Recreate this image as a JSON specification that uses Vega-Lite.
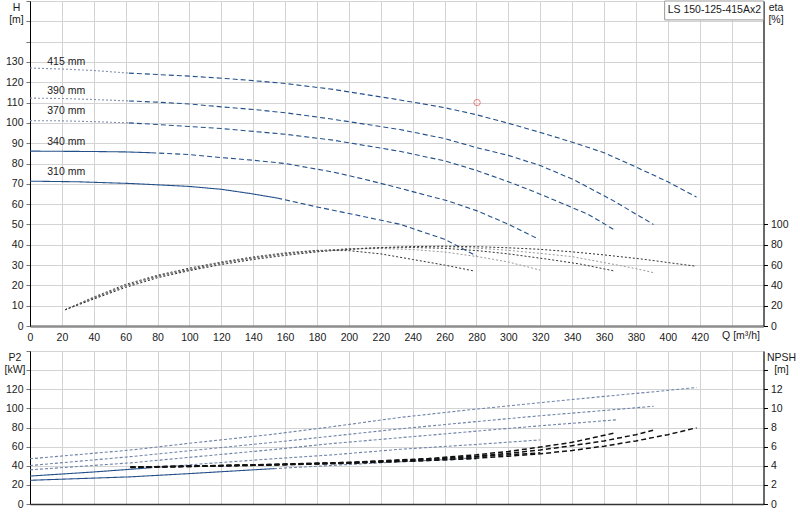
{
  "$schema": "https://vega.github.io/schema/vega-lite/v6.json",
  "padding": {"left": 3, "top": -5, "right": 0, "bottom": 0},
  "background": "white",
  "spacing": 25,
  "bounds": "flush",
  "config": {
    "font": "Liberation Sans",
    "view": {"stroke": "#a6a6a6", "strokeWidth": 1},
    "axis": {
      "labelFont": "Liberation Sans", "labelFontSize": 10.5, "labelColor": "#1a1a1a",
      "titleFont": "Liberation Sans", "titleFontSize": 10.5, "titleFontWeight": "normal", "titleColor": "#1a1a1a",
      "gridColor": "#d3d3d3", "gridWidth": 1, "domainColor": "#000", "tickColor": "#777", "tickSize": 4,
      "labelPadding": 3, "labelFlush": false, "labelOverlap": false
    }
  },
  "datasets": {
    "head": [
      {"d": "415", "seg": "ext", "Q": 0, "H": 127}, {"d": "415", "seg": "ext", "Q": 20, "H": 126.5}, {"d": "415", "seg": "ext", "Q": 40, "H": 125.8}, {"d": "415", "seg": "ext", "Q": 62, "H": 124.5},
      {"d": "415", "seg": "op", "Q": 62, "H": 124.5}, {"d": "415", "seg": "op", "Q": 80, "H": 123.8}, {"d": "415", "seg": "op", "Q": 100, "H": 123}, {"d": "415", "seg": "op", "Q": 120, "H": 122}, {"d": "415", "seg": "op", "Q": 140, "H": 120.8}, {"d": "415", "seg": "op", "Q": 160, "H": 119.4}, {"d": "415", "seg": "op", "Q": 190, "H": 116.5}, {"d": "415", "seg": "op", "Q": 232, "H": 111.3}, {"d": "415", "seg": "op", "Q": 260, "H": 107.5}, {"d": "415", "seg": "op", "Q": 280, "H": 104}, {"d": "415", "seg": "op", "Q": 300, "H": 99.8}, {"d": "415", "seg": "op", "Q": 320, "H": 95.3}, {"d": "415", "seg": "op", "Q": 340, "H": 90.5}, {"d": "415", "seg": "op", "Q": 360, "H": 85.3}, {"d": "415", "seg": "op", "Q": 380, "H": 78.3}, {"d": "415", "seg": "op", "Q": 400, "H": 71}, {"d": "415", "seg": "op", "Q": 418, "H": 63.5},
      {"d": "390", "seg": "ext", "Q": 0, "H": 112.2}, {"d": "390", "seg": "ext", "Q": 20, "H": 112}, {"d": "390", "seg": "ext", "Q": 40, "H": 111.5}, {"d": "390", "seg": "ext", "Q": 62, "H": 110.8},
      {"d": "390", "seg": "op", "Q": 62, "H": 110.8}, {"d": "390", "seg": "op", "Q": 80, "H": 110.2}, {"d": "390", "seg": "op", "Q": 100, "H": 109.3}, {"d": "390", "seg": "op", "Q": 120, "H": 107.9}, {"d": "390", "seg": "op", "Q": 140, "H": 106.6}, {"d": "390", "seg": "op", "Q": 160, "H": 105}, {"d": "390", "seg": "op", "Q": 190, "H": 101.8}, {"d": "390", "seg": "op", "Q": 232, "H": 96.7}, {"d": "390", "seg": "op", "Q": 260, "H": 92.3}, {"d": "390", "seg": "op", "Q": 280, "H": 87.8}, {"d": "390", "seg": "op", "Q": 300, "H": 84}, {"d": "390", "seg": "op", "Q": 320, "H": 79}, {"d": "390", "seg": "op", "Q": 341, "H": 72}, {"d": "390", "seg": "op", "Q": 366, "H": 61.6}, {"d": "390", "seg": "op", "Q": 391, "H": 50},
      {"d": "370", "seg": "ext", "Q": 0, "H": 101.1}, {"d": "370", "seg": "ext", "Q": 20, "H": 101}, {"d": "370", "seg": "ext", "Q": 40, "H": 100.6}, {"d": "370", "seg": "ext", "Q": 62, "H": 100},
      {"d": "370", "seg": "op", "Q": 62, "H": 100}, {"d": "370", "seg": "op", "Q": 80, "H": 99.2}, {"d": "370", "seg": "op", "Q": 100, "H": 98.2}, {"d": "370", "seg": "op", "Q": 120, "H": 97.2}, {"d": "370", "seg": "op", "Q": 140, "H": 95.8}, {"d": "370", "seg": "op", "Q": 160, "H": 94.4}, {"d": "370", "seg": "op", "Q": 190, "H": 91.5}, {"d": "370", "seg": "op", "Q": 232, "H": 86}, {"d": "370", "seg": "op", "Q": 260, "H": 81.3}, {"d": "370", "seg": "op", "Q": 280, "H": 76.6}, {"d": "370", "seg": "op", "Q": 300, "H": 71}, {"d": "370", "seg": "op", "Q": 315, "H": 66.5}, {"d": "370", "seg": "op", "Q": 330, "H": 61.6}, {"d": "370", "seg": "op", "Q": 350, "H": 55}, {"d": "370", "seg": "op", "Q": 367, "H": 47.1},
      {"d": "340", "seg": "rec", "Q": 0, "H": 86.1}, {"d": "340", "seg": "rec", "Q": 20, "H": 86}, {"d": "340", "seg": "rec", "Q": 40, "H": 85.9}, {"d": "340", "seg": "rec", "Q": 60, "H": 85.7}, {"d": "340", "seg": "rec", "Q": 76, "H": 85.3},
      {"d": "340", "seg": "op", "Q": 76, "H": 85.3}, {"d": "340", "seg": "op", "Q": 100, "H": 84.4}, {"d": "340", "seg": "op", "Q": 120, "H": 82.9}, {"d": "340", "seg": "op", "Q": 140, "H": 81.6}, {"d": "340", "seg": "op", "Q": 160, "H": 80}, {"d": "340", "seg": "op", "Q": 190, "H": 75.8}, {"d": "340", "seg": "op", "Q": 210, "H": 72.2}, {"d": "340", "seg": "op", "Q": 232, "H": 67.8}, {"d": "340", "seg": "op", "Q": 262, "H": 61.6}, {"d": "340", "seg": "op", "Q": 280, "H": 56.8}, {"d": "340", "seg": "op", "Q": 300, "H": 50.1}, {"d": "340", "seg": "op", "Q": 319, "H": 42.7},
      {"d": "310", "seg": "rec", "Q": 0, "H": 71.3}, {"d": "310", "seg": "rec", "Q": 30, "H": 71}, {"d": "310", "seg": "rec", "Q": 65, "H": 70.1}, {"d": "310", "seg": "rec", "Q": 100, "H": 68.7}, {"d": "310", "seg": "rec", "Q": 120, "H": 67.3}, {"d": "310", "seg": "rec", "Q": 140, "H": 65}, {"d": "310", "seg": "rec", "Q": 155, "H": 63},
      {"d": "310", "seg": "op", "Q": 155, "H": 63}, {"d": "310", "seg": "op", "Q": 180, "H": 58.6}, {"d": "310", "seg": "op", "Q": 200, "H": 55.4}, {"d": "310", "seg": "op", "Q": 232, "H": 50.1}, {"d": "310", "seg": "op", "Q": 260, "H": 42.7}, {"d": "310", "seg": "op", "Q": 280, "H": 34.5}
    ],
    "eta": [
      {"d": "310", "Q": 22, "eta": 16}, {"d": "310", "Q": 40, "eta": 28.5}, {"d": "310", "Q": 60, "eta": 41}, {"d": "310", "Q": 80, "eta": 50}, {"d": "310", "Q": 100, "eta": 57}, {"d": "310", "Q": 120, "eta": 63}, {"d": "310", "Q": 140, "eta": 68}, {"d": "310", "Q": 160, "eta": 72}, {"d": "310", "Q": 180, "eta": 74.5}, {"d": "310", "Q": 200, "eta": 74.2}, {"d": "310", "Q": 220, "eta": 71}, {"d": "310", "Q": 240, "eta": 65.5}, {"d": "310", "Q": 260, "eta": 60}, {"d": "310", "Q": 279, "eta": 54},
      {"d": "340", "Q": 22, "eta": 16}, {"d": "340", "Q": 40, "eta": 28}, {"d": "340", "Q": 60, "eta": 40}, {"d": "340", "Q": 80, "eta": 49.5}, {"d": "340", "Q": 100, "eta": 56}, {"d": "340", "Q": 120, "eta": 62.5}, {"d": "340", "Q": 140, "eta": 67.5}, {"d": "340", "Q": 160, "eta": 71.5}, {"d": "340", "Q": 180, "eta": 74}, {"d": "340", "Q": 200, "eta": 75.8}, {"d": "340", "Q": 220, "eta": 76.3}, {"d": "340", "Q": 240, "eta": 75.3}, {"d": "340", "Q": 260, "eta": 72.8}, {"d": "340", "Q": 282, "eta": 68}, {"d": "340", "Q": 300, "eta": 63}, {"d": "340", "Q": 320, "eta": 55},
      {"d": "370", "Q": 22, "eta": 16}, {"d": "370", "Q": 40, "eta": 27.5}, {"d": "370", "Q": 60, "eta": 39.5}, {"d": "370", "Q": 80, "eta": 49}, {"d": "370", "Q": 100, "eta": 55.5}, {"d": "370", "Q": 120, "eta": 62}, {"d": "370", "Q": 140, "eta": 67}, {"d": "370", "Q": 160, "eta": 71}, {"d": "370", "Q": 180, "eta": 74}, {"d": "370", "Q": 200, "eta": 76}, {"d": "370", "Q": 220, "eta": 77}, {"d": "370", "Q": 240, "eta": 77.3}, {"d": "370", "Q": 260, "eta": 76.5}, {"d": "370", "Q": 282, "eta": 74}, {"d": "370", "Q": 300, "eta": 71}, {"d": "370", "Q": 325, "eta": 65.7}, {"d": "370", "Q": 345, "eta": 61}, {"d": "370", "Q": 367, "eta": 54},
      {"d": "390", "Q": 22, "eta": 16}, {"d": "390", "Q": 40, "eta": 27}, {"d": "390", "Q": 60, "eta": 39}, {"d": "390", "Q": 80, "eta": 48.5}, {"d": "390", "Q": 100, "eta": 55}, {"d": "390", "Q": 120, "eta": 61.5}, {"d": "390", "Q": 140, "eta": 66.5}, {"d": "390", "Q": 160, "eta": 70.5}, {"d": "390", "Q": 180, "eta": 73.5}, {"d": "390", "Q": 200, "eta": 75.7}, {"d": "390", "Q": 220, "eta": 77.2}, {"d": "390", "Q": 240, "eta": 78}, {"d": "390", "Q": 260, "eta": 78}, {"d": "390", "Q": 282, "eta": 76.5}, {"d": "390", "Q": 300, "eta": 74.5}, {"d": "390", "Q": 320, "eta": 71.5}, {"d": "390", "Q": 340, "eta": 68.3}, {"d": "390", "Q": 365, "eta": 61}, {"d": "390", "Q": 380, "eta": 56.5}, {"d": "390", "Q": 391, "eta": 52.5},
      {"d": "415", "Q": 22, "eta": 16}, {"d": "415", "Q": 40, "eta": 26.5}, {"d": "415", "Q": 60, "eta": 38}, {"d": "415", "Q": 80, "eta": 47.5}, {"d": "415", "Q": 100, "eta": 54.5}, {"d": "415", "Q": 120, "eta": 60.5}, {"d": "415", "Q": 140, "eta": 65.5}, {"d": "415", "Q": 160, "eta": 69.5}, {"d": "415", "Q": 180, "eta": 73}, {"d": "415", "Q": 200, "eta": 75.5}, {"d": "415", "Q": 220, "eta": 77.2}, {"d": "415", "Q": 240, "eta": 78.2}, {"d": "415", "Q": 260, "eta": 78.6}, {"d": "415", "Q": 282, "eta": 78}, {"d": "415", "Q": 300, "eta": 77}, {"d": "415", "Q": 320, "eta": 75.5}, {"d": "415", "Q": 340, "eta": 73}, {"d": "415", "Q": 360, "eta": 70}, {"d": "415", "Q": 385, "eta": 65.7}, {"d": "415", "Q": 400, "eta": 62.5}, {"d": "415", "Q": 417, "eta": 59}
    ],
    "p2": [
      {"d": "415", "seg": "op", "Q": 0, "P2": 47.3}, {"d": "415", "seg": "op", "Q": 63, "P2": 56.4}, {"d": "415", "seg": "op", "Q": 100, "P2": 63.5}, {"d": "415", "seg": "op", "Q": 150, "P2": 72.5}, {"d": "415", "seg": "op", "Q": 188, "P2": 80.5}, {"d": "415", "seg": "op", "Q": 232, "P2": 90.5}, {"d": "415", "seg": "op", "Q": 280, "P2": 99.3}, {"d": "415", "seg": "op", "Q": 320, "P2": 106}, {"d": "415", "seg": "op", "Q": 360, "P2": 112.5}, {"d": "415", "seg": "op", "Q": 390, "P2": 117.2}, {"d": "415", "seg": "op", "Q": 418, "P2": 121.8},
      {"d": "390", "seg": "op", "Q": 0, "P2": 40.2}, {"d": "390", "seg": "op", "Q": 63, "P2": 49.5}, {"d": "390", "seg": "op", "Q": 100, "P2": 55.7}, {"d": "390", "seg": "op", "Q": 150, "P2": 64}, {"d": "390", "seg": "op", "Q": 188, "P2": 70.7}, {"d": "390", "seg": "op", "Q": 232, "P2": 78.6}, {"d": "390", "seg": "op", "Q": 280, "P2": 86.2}, {"d": "390", "seg": "op", "Q": 320, "P2": 92.3}, {"d": "390", "seg": "op", "Q": 360, "P2": 97.8}, {"d": "390", "seg": "op", "Q": 391, "P2": 102.2},
      {"d": "370", "seg": "op", "Q": 0, "P2": 35.7}, {"d": "370", "seg": "op", "Q": 63, "P2": 43}, {"d": "370", "seg": "op", "Q": 100, "P2": 48.8}, {"d": "370", "seg": "op", "Q": 150, "P2": 56.5}, {"d": "370", "seg": "op", "Q": 188, "P2": 63}, {"d": "370", "seg": "op", "Q": 232, "P2": 69.3}, {"d": "370", "seg": "op", "Q": 280, "P2": 76.2}, {"d": "370", "seg": "op", "Q": 320, "P2": 81.8}, {"d": "370", "seg": "op", "Q": 367.7, "P2": 88},
      {"d": "340", "seg": "rec", "Q": 0, "P2": 29.2}, {"d": "340", "seg": "rec", "Q": 40, "P2": 33.5}, {"d": "340", "seg": "rec", "Q": 75, "P2": 37.8},
      {"d": "340", "seg": "op", "Q": 75, "P2": 37.8}, {"d": "340", "seg": "op", "Q": 100, "P2": 41}, {"d": "340", "seg": "op", "Q": 150, "P2": 47}, {"d": "340", "seg": "op", "Q": 188, "P2": 51.2}, {"d": "340", "seg": "op", "Q": 232, "P2": 57.2}, {"d": "340", "seg": "op", "Q": 280, "P2": 62.3}, {"d": "340", "seg": "op", "Q": 320, "P2": 67},
      {"d": "310", "seg": "rec", "Q": 0, "P2": 24.8}, {"d": "310", "seg": "rec", "Q": 63, "P2": 28.4}, {"d": "310", "seg": "rec", "Q": 100, "P2": 31.8}, {"d": "310", "seg": "rec", "Q": 153, "P2": 37},
      {"d": "310", "seg": "op", "Q": 153, "P2": 37}, {"d": "310", "seg": "op", "Q": 200, "P2": 41.3}, {"d": "310", "seg": "op", "Q": 240, "P2": 44.8}, {"d": "310", "seg": "op", "Q": 280, "P2": 48.2}
    ],
    "npsh": [
      {"d": "310", "Q": 63, "NPSH": 3.82}, {"d": "310", "Q": 100, "NPSH": 3.92}, {"d": "310", "Q": 150, "NPSH": 4.08}, {"d": "310", "Q": 200, "NPSH": 4.3}, {"d": "310", "Q": 240, "NPSH": 4.5}, {"d": "310", "Q": 280, "NPSH": 4.75},
      {"d": "340", "Q": 63, "NPSH": 3.84}, {"d": "340", "Q": 100, "NPSH": 3.95}, {"d": "340", "Q": 150, "NPSH": 4.12}, {"d": "340", "Q": 200, "NPSH": 4.35}, {"d": "340", "Q": 240, "NPSH": 4.62}, {"d": "340", "Q": 280, "NPSH": 4.95}, {"d": "340", "Q": 320, "NPSH": 5.35},
      {"d": "370", "Q": 63, "NPSH": 3.86}, {"d": "370", "Q": 100, "NPSH": 3.97}, {"d": "370", "Q": 150, "NPSH": 4.13}, {"d": "370", "Q": 200, "NPSH": 4.35}, {"d": "370", "Q": 250, "NPSH": 4.75}, {"d": "370", "Q": 280, "NPSH": 5.15}, {"d": "370", "Q": 300, "NPSH": 5.5}, {"d": "370", "Q": 320, "NPSH": 5.95}, {"d": "370", "Q": 340, "NPSH": 6.45}, {"d": "370", "Q": 366, "NPSH": 7.4},
      {"d": "390", "Q": 63, "NPSH": 3.85}, {"d": "390", "Q": 100, "NPSH": 3.95}, {"d": "390", "Q": 150, "NPSH": 4.1}, {"d": "390", "Q": 200, "NPSH": 4.3}, {"d": "390", "Q": 250, "NPSH": 4.68}, {"d": "390", "Q": 280, "NPSH": 5}, {"d": "390", "Q": 300, "NPSH": 5.3}, {"d": "390", "Q": 320, "NPSH": 5.65}, {"d": "390", "Q": 340, "NPSH": 6.1}, {"d": "390", "Q": 360, "NPSH": 6.6}, {"d": "390", "Q": 380, "NPSH": 7.25}, {"d": "390", "Q": 391, "NPSH": 7.72},
      {"d": "415", "Q": 63, "NPSH": 3.85}, {"d": "415", "Q": 100, "NPSH": 3.93}, {"d": "415", "Q": 150, "NPSH": 4.07}, {"d": "415", "Q": 200, "NPSH": 4.25}, {"d": "415", "Q": 250, "NPSH": 4.55}, {"d": "415", "Q": 280, "NPSH": 4.8}, {"d": "415", "Q": 300, "NPSH": 5}, {"d": "415", "Q": 320, "NPSH": 5.25}, {"d": "415", "Q": 340, "NPSH": 5.6}, {"d": "415", "Q": 360, "NPSH": 6.05}, {"d": "415", "Q": 380, "NPSH": 6.6}, {"d": "415", "Q": 400, "NPSH": 7.25}, {"d": "415", "Q": 418, "NPSH": 7.97}
    ],
    "labels": [
      {"t": "415 mm", "Q": 10.8, "H": 129.8},
      {"t": "390 mm", "Q": 10.8, "H": 115.9},
      {"t": "370 mm", "Q": 10.8, "H": 105.7},
      {"t": "340 mm", "Q": 10.8, "H": 90.4},
      {"t": "310 mm", "Q": 10.8, "H": 75.6}
    ],
    "duty": [{"Q": 280.4, "H": 110}],
    "box": [{"name": "LS 150-125-415Ax2", "Q0": 398, "Q1": 460, "H0": 150.7, "H1": 160}],
    "qlabel": [{"t": "Q [m³/h]", "Q": 434, "H": -4.7}]
  },
  "vconcat": [
    {
      "width": 733.5,
      "height": 325,
      "layer": [
        {
          "data": {"name": "head"},
          "mark": {"type": "line", "strokeWidth": 1.1},
          "encoding": {
            "x": {
              "field": "Q", "type": "quantitative",
              "scale": {"domain": [0, 460], "nice": false, "zero": false},
              "axis": {
                "title": null, "values": [0, 20, 40, 60, 80, 100, 120, 140, 160, 180, 200, 220, 240, 260, 280, 300, 320, 340, 360, 380, 400, 420, 440],
                "labelExpr": "datum.value > 420 ? '' : datum.label", "labelOverlap": false,
                "ticks": false, "labelPadding": 6, "domainColor": "#8c8c8c", "domainWidth": 2.5, "grid": true
              }
            },
            "y": {
              "field": "H", "type": "quantitative",
              "scale": {"domain": [0, 160], "nice": false},
              "axis": {
                "orient": "left",
                "values": [0, 10, 20, 30, 40, 50, 60, 70, 80, 90, 100, 110, 120, 130, 140, 150, 160],
                "labelExpr": "datum.value > 130 ? '' : datum.label", "labelOverlap": false,
                "title": ["H", "[m]"], "titleAngle": 0, "titleAlign": "center", "titleBaseline": "top",
                "titleX": -14, "titleY": 1, "titleLineHeight": 12, "grid": true
              }
            },
            "detail": [{"field": "d"}, {"field": "seg"}],
            "color": {"condition": {"test": "datum.seg === 'ext'", "value": "#8190ad"}, "value": "#24508a"},
            "strokeDash": {
              "condition": [
                {"test": "datum.seg === 'ext'", "value": [2, 2]},
                {"test": "datum.seg === 'rec'", "value": [1, 0]}
              ],
              "value": [5, 3]
            }
          }
        },
        {
          "data": {"name": "labels"},
          "mark": {"type": "text", "align": "left", "baseline": "middle", "fontSize": 10.5, "color": "#1a1a1a"},
          "encoding": {
            "x": {
              "field": "Q", "type": "quantitative",
              "axis": {
                "title": null, "values": [0, 20, 40, 60, 80, 100, 120, 140, 160, 180, 200, 220, 240, 260, 280, 300, 320, 340, 360, 380, 400, 420, 440],
                "labelExpr": "datum.value > 420 ? '' : datum.label", "labelOverlap": false,
                "ticks": false, "labelPadding": 6, "domainColor": "#8c8c8c", "domainWidth": 2.5, "grid": true
              }
            },
            "y": {"field": "H", "type": "quantitative", "scale": {"domain": [0, 160], "nice": false}, "axis": null},
            "text": {"field": "t"}
          }
        },
        {
          "data": {"name": "duty"},
          "mark": {"type": "point", "shape": "circle", "filled": false, "color": "#e8504a", "size": 40, "strokeWidth": 1},
          "encoding": {
            "x": {
              "field": "Q", "type": "quantitative",
              "axis": {
                "title": null, "values": [0, 20, 40, 60, 80, 100, 120, 140, 160, 180, 200, 220, 240, 260, 280, 300, 320, 340, 360, 380, 400, 420, 440],
                "labelExpr": "datum.value > 420 ? '' : datum.label", "labelOverlap": false,
                "ticks": false, "labelPadding": 6, "domainColor": "#8c8c8c", "domainWidth": 2.5, "grid": true
              }
            },
            "y": {"field": "H", "type": "quantitative", "scale": {"domain": [0, 160], "nice": false}, "axis": null}
          }
        },
        {
          "data": {"name": "box"},
          "mark": {"type": "rect", "fill": "white", "stroke": "#9a9a9a", "strokeWidth": 1},
          "encoding": {
            "x": {
              "field": "Q0", "type": "quantitative",
              "axis": {
                "title": null, "values": [0, 20, 40, 60, 80, 100, 120, 140, 160, 180, 200, 220, 240, 260, 280, 300, 320, 340, 360, 380, 400, 420, 440],
                "labelExpr": "datum.value > 420 ? '' : datum.label", "labelOverlap": false,
                "ticks": false, "labelPadding": 6, "domainColor": "#8c8c8c", "domainWidth": 2.5, "grid": true
              }
            },
            "x2": {"field": "Q1"},
            "y": {"field": "H0", "type": "quantitative", "scale": {"domain": [0, 160], "nice": false}, "axis": null},
            "y2": {"field": "H1"}
          }
        },
        {
          "data": {"name": "box"},
          "mark": {"type": "text", "align": "left", "baseline": "top", "dx": 3, "dy": 4, "fontSize": 10.5, "color": "#1a1a1a"},
          "encoding": {
            "x": {
              "field": "Q0", "type": "quantitative",
              "axis": {
                "title": null, "values": [0, 20, 40, 60, 80, 100, 120, 140, 160, 180, 200, 220, 240, 260, 280, 300, 320, 340, 360, 380, 400, 420, 440],
                "labelExpr": "datum.value > 420 ? '' : datum.label", "labelOverlap": false,
                "ticks": false, "labelPadding": 6, "domainColor": "#8c8c8c", "domainWidth": 2.5, "grid": true
              }
            },
            "y": {"field": "H1", "type": "quantitative", "scale": {"domain": [0, 160], "nice": false}, "axis": null},
            "text": {"field": "name"}
          }
        },
        {
          "data": {"name": "qlabel"},
          "mark": {"type": "text", "align": "left", "baseline": "middle", "fontSize": 10.5, "color": "#1a1a1a"},
          "encoding": {
            "x": {
              "field": "Q", "type": "quantitative",
              "axis": {
                "title": null, "values": [0, 20, 40, 60, 80, 100, 120, 140, 160, 180, 200, 220, 240, 260, 280, 300, 320, 340, 360, 380, 400, 420, 440],
                "labelExpr": "datum.value > 420 ? '' : datum.label", "labelOverlap": false,
                "ticks": false, "labelPadding": 6, "domainColor": "#8c8c8c", "domainWidth": 2.5, "grid": true
              }
            },
            "y": {"field": "H", "type": "quantitative", "scale": {"domain": [0, 160], "nice": false}, "axis": null},
            "text": {"field": "t"}
          }
        },
        {
          "data": {"name": "eta"},
          "mark": {"type": "line", "strokeWidth": 1, "strokeDash": [2, 2]},
          "encoding": {
            "x": {
              "field": "Q", "type": "quantitative",
              "axis": {
                "title": null, "values": [0, 20, 40, 60, 80, 100, 120, 140, 160, 180, 200, 220, 240, 260, 280, 300, 320, 340, 360, 380, 400, 420, 440],
                "labelExpr": "datum.value > 420 ? '' : datum.label", "labelOverlap": false,
                "ticks": false, "labelPadding": 6, "domainColor": "#8c8c8c", "domainWidth": 2.5, "grid": true
              }
            },
            "y": {
              "field": "eta", "type": "quantitative",
              "scale": {"domain": [0, 320], "nice": false},
              "axis": {
                "orient": "right", "values": [0, 20, 40, 60, 80, 100], "grid": false, "tickColor": "#000", "labelOverlap": false,
                "title": ["eta", "[%]"], "titleAngle": 0, "titleAlign": "center", "titleBaseline": "top",
                "titleX": 12, "titleY": 1, "titleLineHeight": 12
              }
            },
            "detail": {"field": "d"},
            "color": {"condition": {"test": "datum.d === '340' || datum.d === '390'", "value": "#9a9a9a"}, "value": "#333333"}
          }
        }
      ],
      "resolve": {"scale": {"y": "independent"}, "axis": {"y": "independent"}}
    },
    {
      "width": 733.5,
      "height": 153,
      "layer": [
        {
          "data": {"name": "p2"},
          "mark": {"type": "line", "strokeWidth": 1.1},
          "encoding": {
            "x": {
              "field": "Q", "type": "quantitative",
              "scale": {"domain": [0, 460], "nice": false, "zero": false},
              "axis": {
                "title": null, "values": [0, 20, 40, 60, 80, 100, 120, 140, 160, 180, 200, 220, 240, 260, 280, 300, 320, 340, 360, 380, 400, 420, 440],
                "labels": false, "ticks": false, "domainColor": "#333", "domainWidth": 1.5, "grid": true
              }
            },
            "y": {
              "field": "P2", "type": "quantitative",
              "scale": {"domain": [0, 160], "nice": false},
              "axis": {
                "values": [0, 20, 40, 60, 80, 100, 120, 140, 160],
                "labelExpr": "datum.value > 120 ? '' : datum.label", "labelOverlap": false,
                "title": ["P2", "[kW]"], "titleAngle": 0, "titleAlign": "center", "titleBaseline": "top",
                "titleX": -15.5, "titleY": 1, "titleLineHeight": 12, "grid": true
              }
            },
            "detail": [{"field": "d"}, {"field": "seg"}],
            "color": {"condition": {"test": "datum.seg === 'rec'", "value": "#24508a"}, "value": "#6f82a6"},
            "strokeDash": {"condition": {"test": "datum.seg === 'rec'", "value": [1, 0]}, "value": [3, 2]}
          }
        },
        {
          "data": {"name": "npsh"},
          "mark": {"type": "line", "strokeWidth": 1.5, "strokeDash": [5, 3], "color": "#111111"},
          "encoding": {
            "x": {
              "field": "Q", "type": "quantitative",
              "axis": {
                "title": null, "values": [0, 20, 40, 60, 80, 100, 120, 140, 160, 180, 200, 220, 240, 260, 280, 300, 320, 340, 360, 380, 400, 420, 440],
                "labels": false, "ticks": false, "domainColor": "#333", "domainWidth": 1.5, "grid": true
              }
            },
            "y": {
              "field": "NPSH", "type": "quantitative",
              "scale": {"domain": [0, 16], "nice": false},
              "axis": {
                "orient": "right", "values": [0, 2, 4, 6, 8, 10, 12, 14], "grid": false, "tickColor": "#000",
                "labelExpr": "datum.value > 12 ? '' : datum.label", "labelOverlap": false,
                "title": ["NPSH", "[m]"], "titleAngle": 0, "titleAlign": "center", "titleBaseline": "top",
                "titleX": 17.5, "titleY": 1, "titleLineHeight": 12
              }
            },
            "detail": {"field": "d"}
          }
        }
      ],
      "resolve": {"scale": {"y": "independent"}, "axis": {"y": "independent"}}
    }
  ]
}
